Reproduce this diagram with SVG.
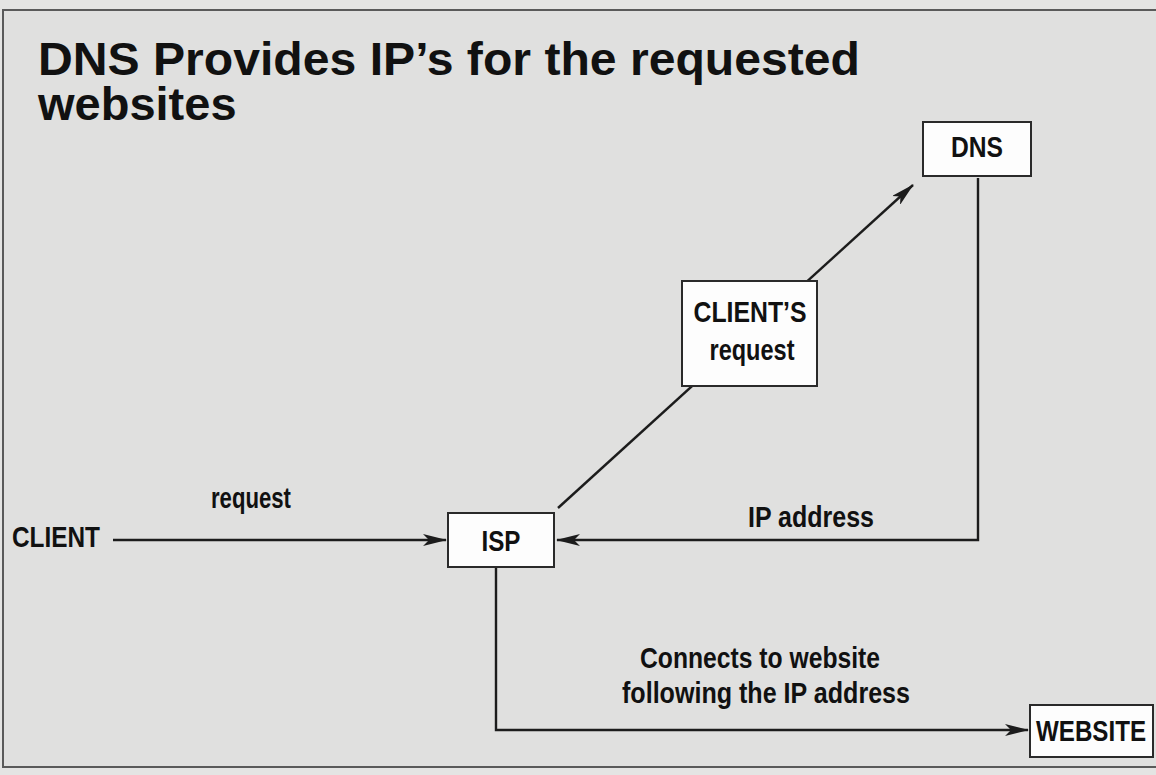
<svg xmlns="http://www.w3.org/2000/svg" width="1156" height="775" viewBox="0 0 1156 775">
  <style>
    .title { font-family: "Liberation Sans", Arial, sans-serif; font-weight: bold; font-size: 47px; fill: #111; }
    .lbl { font-family: "Liberation Sans Narrow", "Liberation Sans", Arial, sans-serif; font-weight: bold; font-size: 30px; fill: #111; }
    .box { fill: #fdfdfd; stroke: #2a2a2a; stroke-width: 2; }
    .wire { fill: none; stroke: #1c1c1c; stroke-width: 2.4; }
  </style>
  <defs>
    <marker id="arrow" viewBox="0 0 24 12" refX="23" refY="6" markerWidth="24" markerHeight="12" markerUnits="userSpaceOnUse" orient="auto">
      <path d="M0,0 L24,6 L0,12 L6,6 Z" fill="#1c1c1c"/>
    </marker>
  </defs>

  <!-- paper and panel frame -->
  <rect x="0" y="0" width="1156" height="775" fill="#e4e4e3"/>
  <rect x="3" y="10" width="1160" height="757" fill="#e0e0df" stroke="#5a5a5a" stroke-width="2"/>

  <!-- heading -->
  <g id="title">
    <text class="title" x="38" y="75" textLength="822" lengthAdjust="spacingAndGlyphs">DNS Provides IP’s for the requested</text>
    <text class="title" x="38" y="120">websites</text>
  </g>

  <!-- connectors -->
  <g id="connectors">
    <line class="wire" x1="113" y1="540" x2="446" y2="540" marker-end="url(#arrow)"/>
    <line class="wire" x1="558" y1="508" x2="913" y2="185" marker-end="url(#arrow)"/>
    <polyline class="wire" points="978,178 978,540 557,540" marker-end="url(#arrow)"/>
    <polyline class="wire" points="496,567 496,730 1028,730" marker-end="url(#arrow)"/>
  </g>

  <!-- edge labels -->
  <g id="labels">
    <text class="lbl" x="211" y="508" textLength="80" lengthAdjust="spacingAndGlyphs">request</text>
    <text class="lbl" x="748" y="527" textLength="126" lengthAdjust="spacingAndGlyphs">IP address</text>
    <text class="lbl" x="760" y="668" text-anchor="middle" textLength="240" lengthAdjust="spacingAndGlyphs">Connects to website</text>
    <text class="lbl" x="766" y="703" text-anchor="middle" textLength="288" lengthAdjust="spacingAndGlyphs">following the IP address</text>
  </g>

  <!-- nodes -->
  <g id="client">
    <text class="lbl" x="12" y="547" textLength="88" lengthAdjust="spacingAndGlyphs">CLIENT</text>
  </g>
  <g id="isp">
    <rect class="box" x="448" y="513" width="106" height="54"/>
    <text class="lbl" x="501" y="551" text-anchor="middle" textLength="39" lengthAdjust="spacingAndGlyphs">ISP</text>
  </g>
  <g id="dns">
    <rect class="box" x="923" y="122" width="108" height="54"/>
    <text class="lbl" x="977" y="157" text-anchor="middle" textLength="52" lengthAdjust="spacingAndGlyphs">DNS</text>
  </g>
  <g id="clients-request">
    <rect class="box" x="682" y="281" width="135" height="105"/>
    <text class="lbl" x="750" y="322" text-anchor="middle" textLength="113" lengthAdjust="spacingAndGlyphs">CLIENT’S</text>
    <text class="lbl" x="752" y="360" text-anchor="middle" textLength="85" lengthAdjust="spacingAndGlyphs">request</text>
  </g>
  <g id="website">
    <rect class="box" x="1030" y="705" width="123" height="52"/>
    <text class="lbl" x="1036" y="741" textLength="110" lengthAdjust="spacingAndGlyphs">WEBSITE</text>
  </g>
</svg>
